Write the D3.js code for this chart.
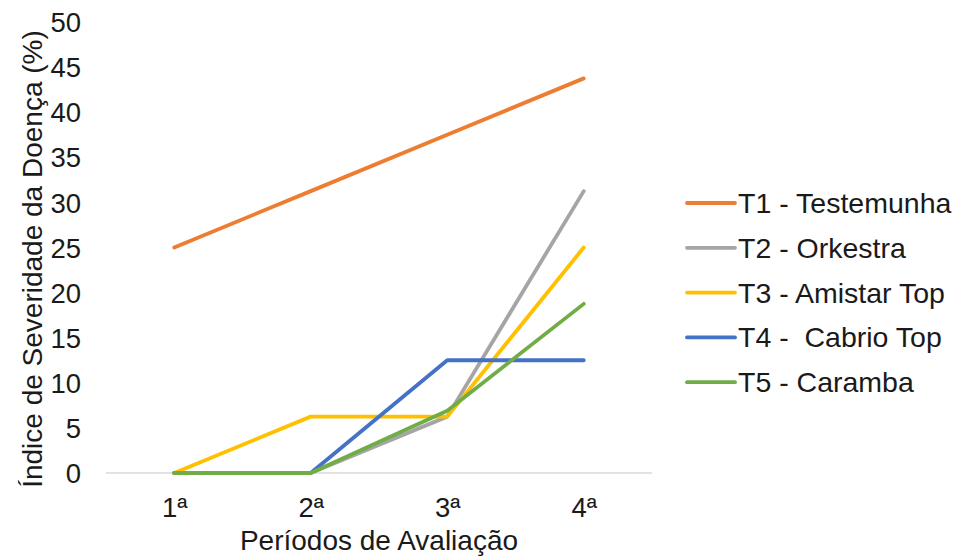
<!DOCTYPE html>
<html>
<head>
<meta charset="utf-8">
<script src="https://cdn.jsdelivr.net/npm/d3@7"></script>
<style>
  html, body { margin: 0; padding: 0; background: #fff; }
  svg text { font-family: "Liberation Sans", Arial, sans-serif; fill: #1a1a1a; }
</style>
</head>
<body>
<svg id="chart" width="957" height="557"></svg>
<script>
// Evaluation periods
const periods = ["1ª", "2ª", "3ª", "4ª"];

// Disease severity index (%) per treatment
const seriesNames = ["T1 - Testemunha", "T2 - Orkestra", "T3 - Amistar Top", "T4 -  Cabrio Top", "T5 - Caramba"];
const t1 = [25, 31.25, 37.5, 43.75];
const t2 = [0, 0, 6.25, 31.25];
const t3 = [0, 6.25, 6.25, 25];
const t4 = [0, 0, 12.5, 12.5];
const t5 = [0, 0, 6.9, 18.75];
const seriesColors = ["#ED7D31", "#A5A5A5", "#FFC000", "#4472C4", "#70AD47"];

const yTicks = [0, 5, 10, 15, 20, 25, 30, 35, 40, 45, 50];

const series = [t1, t2, t3, t4, t5].map((vals, i) => ({
  name: seriesNames[i], color: seriesColors[i], values: vals
}));

const svg = d3.select("#chart");
const plot = { left: 106, right: 652, top: 22, bottom: 473 };
const fontSize = "27.5px";

const x = d3.scalePoint().domain(periods).range([plot.left, plot.right]).padding(0.5);
const y = d3.scaleLinear().domain([0, 50]).range([plot.bottom, plot.top]);

// Y axis: labels only
const yAxis = svg.append("g")
  .attr("transform", `translate(${plot.left - 25},0)`)
  .call(d3.axisLeft(y).tickValues(yTicks).tickSize(0).tickPadding(0));
yAxis.select(".domain").remove();
yAxis.selectAll("text").style("font-size", fontSize).attr("dy", "0.35em");

// Category axis baseline
svg.append("line")
  .attr("x1", plot.left).attr("x2", plot.right)
  .attr("y1", y(0)).attr("y2", y(0))
  .attr("stroke", "#D9D9D9").attr("stroke-width", 1.3);

const xAxis = svg.append("g")
  .attr("transform", `translate(0,${plot.bottom})`)
  .call(d3.axisBottom(x).tickSize(0).tickPadding(0));
xAxis.select(".domain").remove();
xAxis.selectAll("text").style("font-size", fontSize).attr("dy", "0").attr("y", 44);

// Lines
const line = d3.line().x((d, i) => x(periods[i])).y(d => y(d));
svg.append("g").selectAll("path")
  .data(series)
  .join("path")
  .attr("d", d => line(d.values))
  .attr("fill", "none")
  .attr("stroke", d => d.color)
  .attr("stroke-width", 3.8)
  .attr("stroke-linejoin", "round")
  .attr("stroke-linecap", "round");

// Axis titles
svg.append("text")
  .attr("x", (plot.left + plot.right) / 2)
  .attr("y", 550)
  .attr("text-anchor", "middle")
  .style("font-size", "28px")
  .text("Períodos de Avaliação");

svg.append("text")
  .attr("transform", `translate(42,259) rotate(-90)`)
  .attr("text-anchor", "middle")
  .style("font-size", "28px")
  .text("Índice de Severidade da Doença (%)");

// Legend
const legend = svg.append("g").attr("transform", "translate(687,203)");
const item = legend.selectAll("g")
  .data(series)
  .join("g")
  .attr("transform", (d, i) => `translate(0,${i * 44.8})`);
item.append("line")
  .attr("x1", 0).attr("x2", 48)
  .attr("stroke", d => d.color)
  .attr("stroke-width", 3.8)
  .attr("stroke-linecap", "round");
item.append("text")
  .attr("x", 51)
  .attr("dy", "0.35em")
  .style("font-size", "28.5px")
  .style("white-space", "pre")
  .text(d => d.name);
</script>
</body>
</html>
